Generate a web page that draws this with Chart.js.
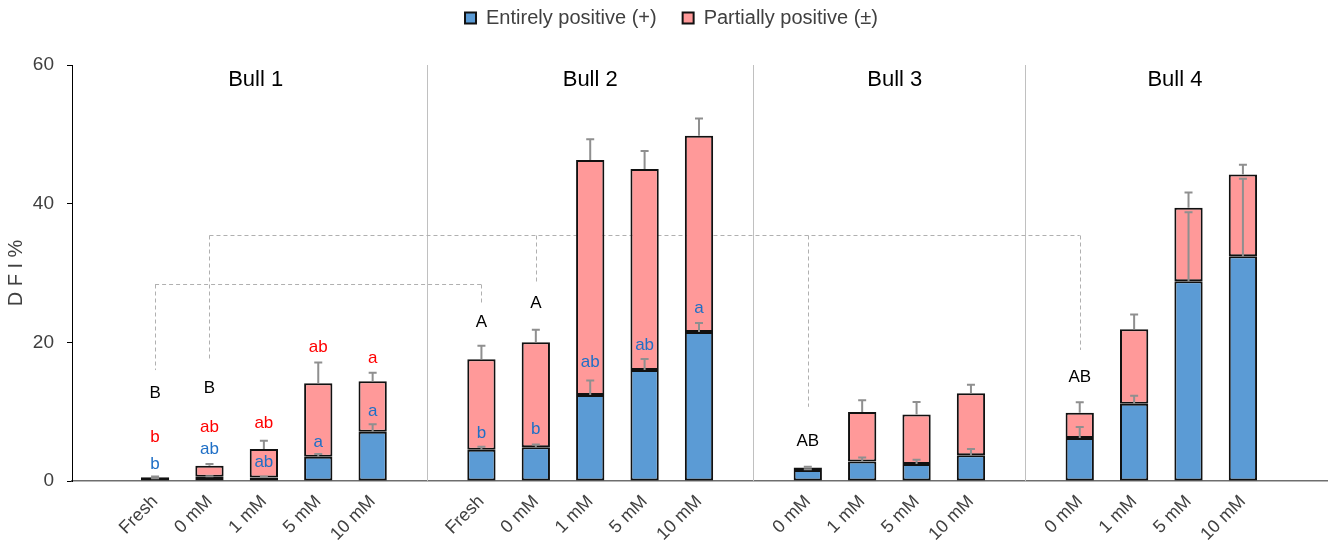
<!DOCTYPE html>
<html>
<head>
<meta charset="utf-8">
<script src="https://cdn.jsdelivr.net/npm/chart.js@4.4.0/dist/chart.umd.min.js"></script>
<style>
  html, body { margin: 0; padding: 0; background: #fff; }
  #wrap { width: 1332px; height: 547px; }
</style>
</head>
<body>
<div id="wrap"><canvas id="c" width="1332" height="547"></canvas></div>
<script>
// ---- data ----
const categories = ['', 'Fresh', '0 mM', '1 mM', '5 mM', '10 mM', '', 'Fresh', '0 mM', '1 mM', '5 mM', '10 mM', '', '0 mM', '1 mM', '5 mM', '10 mM', '', '0 mM', '1 mM', '5 mM', '10 mM', ''];
const entirelyPositive = [null, 0.3, 0.6, 0.5, 3.5, 7.1, null, 4.5, 4.85, 12.4, 16.0, 21.5, null, 1.6, 2.8, 2.45, 3.7, null, 6.2, 11.15, 28.8, 32.4, null];
const partiallyPositive = [null, 0.25, 1.6, 4.1, 10.6, 7.3, null, 13.05, 15.15, 33.9, 29.0, 28.3, null, 0.35, 7.15, 7.15, 8.95, null, 3.65, 10.75, 10.6, 11.8, null];
const entirelyErr = [null, 0.1, 0.1, 0.1, 0.4, 1.1, null, 0.45, 0.4, 2.1, 1.6, 1.3, null, 0.1, 0.6, 0.6, 0.9, null, 1.6, 1.15, 9.95, 11.2, null];
const totalErr = [null, 0.1, 0.25, 1.2, 3.0, 1.2, null, 1.95, 1.8, 3.0, 2.6, 2.5, null, 0.1, 1.7, 1.8, 1.25, null, 1.5, 2.1, 2.2, 1.4, null];

const blackLetters = ['', 'B', 'B', '', '', '', '', 'A', 'A', '', '', '', '', 'AB', '', '', '', '', 'AB', '', '', '', ''];
const blackLetterY = [null, 12.65, 13.4, null, null, null, null, 22.9, 25.7, null, null, null, null, 5.7, null, null, null, null, 14.9, null, null, null, null];
const redLetters = ['', 'b', 'ab', 'ab', 'ab', 'a'];
const redLetterY = [null, 6.3, 7.7, 8.3, 19.3, 17.7];
const blueLetters = ['', 'b', 'ab', 'ab', 'a', 'a', '', 'b', 'b', 'ab', 'ab', 'a'];
const blueLetterY = [null, 2.4, 4.6, 2.65, 5.6, 10.1, null, 6.9, 7.5, 17.1, 19.6, 24.9];

const groupNames = ['Bull 1', 'Bull 2', 'Bull 3', 'Bull 4'];
const groupCenters = [2.85, 9, 14.6, 19.75];
const groupTitleY = 57.9;
const separators = [6, 12, 17];

const bracketLevels = [28.4, 35.5];
const bracketDrops = [
  [[1, 16.0], [7, 25.6]],
  [[2, 17.5], [8, 28.7], [13, 10.7], [18, 18.9]]
];

const yTicks = [0, 20, 40, 60];

// ---- styles ----
const BLUE = '#5B9BD5';
const PINK = '#FF9999';
const FONT = "'Liberation Sans', Arial, sans-serif";
const LEGEND_FONT = 20;
const LEGEND_PAD = 26;

const annotations = {
  id: 'annotations',
  beforeInit(chart) {
    const lg = chart.legend;
    if (lg) {
      const fit = lg.fit;
      lg.fit = function () { fit.call(this); this.height = 61; };
    }
  },
  afterLayout(chart) {
    const s = chart.scales.x;
    s._startPixel = s.left + 1.5;
    s._length = s.right - 2.5 - s._startPixel;
    if (chart.legend) {
      const lg = chart.legend;
      const h = lg.height;
      lg.top = 18 - LEGEND_PAD - LEGEND_FONT / 2;
      lg.bottom = lg.top + h;
      lg.left += 6;
      lg.right += 6;
    }
  },
  beforeDatasetsDraw(chart) {
    const {ctx, scales: {x, y}} = chart;
    ctx.save();
    ctx.strokeStyle = '#c0c0c0';
    ctx.lineWidth = 1;
    separators.forEach(i => {
      const px = Math.round(x.getPixelForValue(i)) + 0.5;
      ctx.beginPath();
      ctx.moveTo(px, y.getPixelForValue(0));
      ctx.lineTo(px, y.getPixelForValue(60));
      ctx.stroke();
    });
    ctx.strokeStyle = '#b0b0b0';
    ctx.setLineDash([4, 3]);
    bracketLevels.forEach((lvl, k) => {
      const drops = bracketDrops[k];
      const py = Math.round(y.getPixelForValue(lvl)) + 0.5;
      ctx.beginPath();
      ctx.moveTo(x.getPixelForValue(drops[0][0]), py);
      ctx.lineTo(x.getPixelForValue(drops[drops.length - 1][0]), py);
      drops.forEach(([i, v]) => {
        const px = Math.round(x.getPixelForValue(i)) + 0.5;
        ctx.moveTo(px, py);
        ctx.lineTo(px, y.getPixelForValue(v));
      });
      ctx.stroke();
    });
    ctx.setLineDash([]);
    ctx.fillStyle = '#000';
    ctx.font = '22px ' + FONT;
    ctx.textAlign = 'center';
    ctx.textBaseline = 'middle';
    groupNames.forEach((n, k) => {
      ctx.fillText(n, x.getPixelForValue(groupCenters[k]), y.getPixelForValue(groupTitleY));
    });
    ctx.restore();
  },
  afterDatasetsDraw(chart) {
    const {ctx, scales: {x, y}} = chart;
    ctx.save();
    ctx.strokeStyle = '#8f8f8f';
    ctx.lineWidth = 2;
    const cap = 4;
    categories.forEach((c, i) => {
      if (entirelyPositive[i] == null) return;
      const px = x.getPixelForValue(i);
      const tops = [
        [entirelyPositive[i], entirelyErr[i]],
        [entirelyPositive[i] + partiallyPositive[i], totalErr[i]]
      ];
      tops.forEach(([v, e]) => {
        const y0 = y.getPixelForValue(v);
        const y1 = y.getPixelForValue(v + e);
        ctx.beginPath();
        ctx.moveTo(px, y0);
        ctx.lineTo(px, y1);
        ctx.moveTo(px - cap, y1);
        ctx.lineTo(px + cap, y1);
        ctx.stroke();
      });
    });
    ctx.font = '17px ' + FONT;
    ctx.textAlign = 'center';
    ctx.textBaseline = 'middle';
    const drawSet = (letters, ys, color) => {
      ctx.fillStyle = color;
      letters.forEach((t, i) => {
        if (!t) return;
        ctx.fillText(t, x.getPixelForValue(i), y.getPixelForValue(ys[i]));
      });
    };
    drawSet(blackLetters, blackLetterY, '#000');
    drawSet(redLetters, redLetterY, '#FF0000');
    drawSet(blueLetters, blueLetterY, '#1F6FC6');
    ctx.restore();
  }
};

new Chart(document.getElementById('c'), {
  type: 'bar',
  data: {
    labels: categories,
    datasets: [
      { label: 'Entirely positive (+)', data: entirelyPositive, backgroundColor: BLUE, borderColor: '#111', borderWidth: 2, borderSkipped: false },
      { label: 'Partially positive (±)', data: partiallyPositive, backgroundColor: PINK, borderColor: '#111', borderWidth: 2, borderSkipped: false }
    ]
  },
  options: {
    responsive: false,
    animation: false,
    layout: { padding: { top: 4, right: 5, left: 4, bottom: 0 } },
    datasets: { bar: { categoryPercentage: 1, barPercentage: 0.52 } },
    plugins: {
      legend: {
        position: 'top',
        labels: {
          font: { family: FONT, size: LEGEND_FONT },
          color: '#404040',
          boxWidth: 11,
          boxHeight: 11,
          padding: LEGEND_PAD
        }
      },
      tooltip: { enabled: false }
    },
    scales: {
      x: {
        stacked: true,
        afterFit(scale) { scale.height = 66; },
        grid: { display: false },
        border: { display: true, color: '#6e6e6e', width: 1.5 },
        ticks: {
          autoSkip: false,
          minRotation: 45,
          maxRotation: 45,
          color: '#404040',
          font: { family: FONT, size: 18 },
          padding: 2
        }
      },
      y: {
        stacked: true,
        min: 0,
        max: 60,
        afterFit(scale) { scale.width = 68; },
        afterBuildTicks(scale) { scale.ticks = yTicks.map(v => ({ value: v })); },
        grid: { drawOnChartArea: false, drawTicks: true, tickLength: 5, color: '#000' },
        border: { display: true, color: '#000', width: 1 },
        ticks: {
          color: '#404040',
          font: { family: FONT, size: 19 },
          padding: 13
        },
        title: {
          display: true,
          text: 'D F I %',
          color: '#404040',
          font: { family: FONT, size: 20 },
          padding: { top: 0, bottom: 0 }
        }
      }
    }
  },
  plugins: [annotations]
});
</script>
</body>
</html>
